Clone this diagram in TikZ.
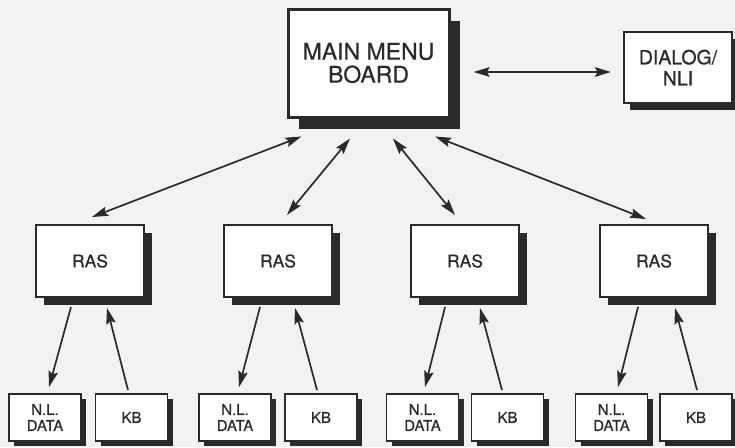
\documentclass[tikz,border=0pt]{standalone}
\usepackage{fontspec}
\setmainfont{TeX Gyre Heros}[FakeBold=0.6]
\usetikzlibrary{arrows.meta,shadows}
\definecolor{ink}{HTML}{2A2A2A}
\definecolor{paper}{HTML}{F2F2F0}
\begin{document}
\begin{tikzpicture}[x=1pt,y=-1pt,
  box/.style={draw=ink,fill=white,text=ink,align=center,inner sep=0pt},
  bigbox/.style={box,line width=3pt,minimum width=161pt,minimum height=108pt,
    font=\fontsize{23}{23}\selectfont,
    drop shadow={shadow xshift=11pt,shadow yshift=-12pt,fill=ink,opacity=1}},
  dlgbox/.style={box,line width=2pt,minimum width=108pt,minimum height=71pt,
    font=\fontsize{19.5}{21}\selectfont,
    drop shadow={shadow xshift=6pt,shadow yshift=-7pt,fill=ink,opacity=1}},
  rasbox/.style={box,line width=2pt,minimum width=108pt,minimum height=72pt,
    font=\fontsize{17.5}{19}\selectfont,
    drop shadow={shadow xshift=8pt,shadow yshift=-8pt,fill=ink,opacity=1}},
  smallbox/.style={box,line width=1.8pt,minimum width=72pt,minimum height=47pt,
    font=\fontsize{15}{16}\selectfont,
    drop shadow={shadow xshift=5pt,shadow yshift=-5pt,fill=ink,opacity=1}},
  tip/.tip={Stealth[length=16pt,width=9.5pt,inset=2.5pt]},
  arr/.style={draw=ink,line width=1.7pt,-tip},
  darr/.style={draw=ink,line width=1.7pt,tip-tip}
]
\fill[paper] (0,0) rectangle (735,447);
\useasboundingbox (0,0) rectangle (735,447);

\node[bigbox] (main) at (368.5,63) {MAIN MENU\\BOARD};
\node[dlgbox] (dlg) at (678,67.5) {DIALOG/\\NLI};

\node[rasbox] (r1) at (90,261) {RAS};
\node[rasbox] (r2) at (278,261) {RAS};
\node[rasbox] (r3) at (465,261) {RAS};
\node[rasbox] (r4) at (654,261) {RAS};

\node[smallbox] (n1) at (45,417.5) {N.L.\\DATA};
\node[smallbox] (k1) at (131.5,417.5) {KB};
\node[smallbox] (n2) at (235,417.5) {N.L.\\DATA};
\node[smallbox] (k2) at (321,417.5) {KB};
\node[smallbox] (n3) at (422.5,417.5) {N.L.\\DATA};
\node[smallbox] (k3) at (507.5,417.5) {KB};
\node[smallbox] (n4) at (611.5,417.5) {N.L.\\DATA};
\node[smallbox] (k4) at (696,417.5) {KB};

% main <-> dialog
\draw[darr] ([shift={(23,9)}]main.east) -- ([shift={(-12,4.5)}]dlg.west);

% main <-> RAS
\draw[darr] ([shift={(15,18)}]main.south west) -- ([shift={(2,-7)}]r1.north);
\draw[darr] ([shift={(-18.5,20)}]main.south) -- ([shift={(9,-9)}]r2.north);
\draw[darr] ([shift={(24.5,20)}]main.south) -- ([shift={(-10,-9)}]r3.north);
\draw[darr] ([shift={(66.5,18)}]main.south) -- ([shift={(-8,-5)}]r4.north);

% RAS -> N.L. DATA, KB -> RAS
\draw[arr] ([shift={(-19,9)}]r1.south) -- ([shift={(4,-6)}]n1.north);
\draw[arr] ([shift={(-3.5,-3)}]k1.north) -- ([shift={(17,10)}]r1.south);
\draw[arr] ([shift={(-18,9)}]r2.south) -- ([shift={(4,-6)}]n2.north);
\draw[arr] ([shift={(-4,-3)}]k2.north) -- ([shift={(17,10)}]r2.south);
\draw[arr] ([shift={(-20,9)}]r3.south) -- ([shift={(2.5,-6)}]n3.north);
\draw[arr] ([shift={(-5.5,-3)}]k3.north) -- ([shift={(15,10)}]r3.south);
\draw[arr] ([shift={(-16,9)}]r4.south) -- ([shift={(6.5,-6)}]n4.north);
\draw[arr] ([shift={(1,-3)}]k4.north) -- ([shift={(21,10)}]r4.south);
\end{tikzpicture}
\end{document}
